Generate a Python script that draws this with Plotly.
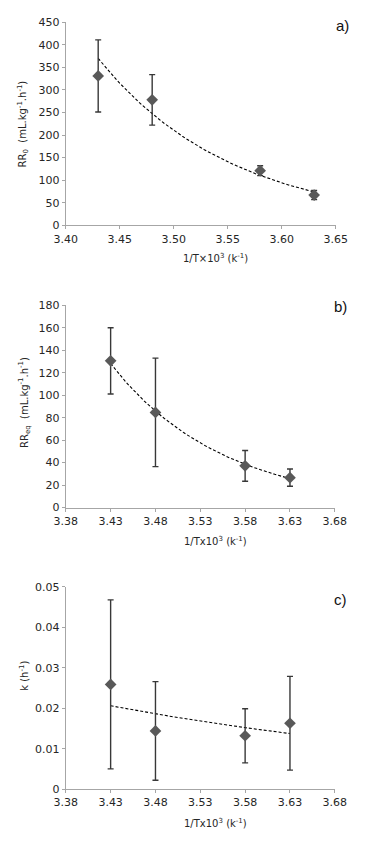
import numpy as np
import plotly.graph_objects as go

# ---- data ----
x_vals = [3.43, 3.48, 3.58, 3.63]

rr0 = [331, 278, 121, 67]
rr0_err = [80, 56, 11, 10]

rreq = [130.6, 84.7, 37.1, 26.6]
rreq_err = [29.5, 48.3, 13.7, 7.7]

k_vals = [0.0259, 0.0144, 0.0132, 0.0163]
k_err = [0.0209, 0.0122, 0.0067, 0.0116]

panel_labels = ["a)", "b)", "c)"]
y_titles = ["RR<sub>0</sub>  (mL.kg<sup>-1</sup>.h<sup>-1</sup>)",
            "RR<sub>eq</sub>  (mL.kg<sup>-1</sup>.h<sup>-1</sup>)",
            "k (h<sup>-1</sup>)"]
x_titles = ["1/T×10<sup>3</sup> (k<sup>-1</sup>)",
            "1/Tx10<sup>3</sup> (k<sup>-1</sup>)",
            "1/Tx10<sup>3</sup> (k<sup>-1</sup>)"]
x_ranges = [[3.40, 3.65], [3.38, 3.68], [3.38, 3.68]]
x_tickvals = [[3.40, 3.45, 3.50, 3.55, 3.60, 3.65],
              [3.38, 3.43, 3.48, 3.53, 3.58, 3.63, 3.68],
              [3.38, 3.43, 3.48, 3.53, 3.58, 3.63, 3.68]]
y_ranges = [[0, 450], [0, 180], [0, 0.05]]
y_dticks = [50, 20, 0.01]

series = [(rr0, rr0_err), (rreq, rreq_err), (k_vals, k_err)]

W, H = 373, 850
# plot areas in pixels (left, right, top, bottom)
areas = [(57.5, 346, 16.5, 222.7), (57.5, 345, 304, 509.3), (57.5, 345, 590, 795.3)]
label_pos = [(362, 20), (360, 305), (360, 603)]
xtitle_pos = [(218, 256), (218, 543), (218, 830)]
ytitle_pos = [(12, 120), (13, 403), (12, 680)]

fig = go.Figure()
tick_fam = "DejaVu Sans, sans-serif"
title_fam = "DejaVu Sans, sans-serif"
txt_col = "#262626"
axis_col = "#a6a6a6"

for i, ((yv, ye), (l, r, t, b)) in enumerate(zip(series, areas)):
    xa = "x" if i == 0 else f"x{i+1}"
    ya = "y" if i == 0 else f"y{i+1}"
    # exponential trendline (fit of ln y)
    xs = np.array(x_vals)
    coef = np.polyfit(xs, np.log(np.array(yv)), 1)
    xt = np.linspace(xs.min(), xs.max(), 60)
    yt = np.exp(np.polyval(coef, xt))
    fig.add_trace(go.Scatter(x=xt, y=yt, mode="lines", xaxis=xa, yaxis=ya,
                             line=dict(color="#000000", width=1.1, dash="3px,2px"),
                             showlegend=False, hoverinfo="skip"))
    fig.add_trace(go.Scatter(x=x_vals, y=yv, mode="markers", xaxis=xa, yaxis=ya,
                             marker=dict(symbol="diamond", size=9, color="#595959"),
                             error_y=dict(type="data", array=ye, visible=True,
                                          color="#383838", thickness=1.4, width=3),
                             showlegend=False))
    xd = [l / W, r / W]
    yd = [1 - b / H, 1 - t / H]
    common = dict(showgrid=False, zeroline=False, showline=True, linecolor=axis_col,
                  linewidth=1.3, ticks="outside", tickcolor=axis_col, ticklen=3,
                  tickfont=dict(family=tick_fam, size=11, color=txt_col))
    fig.layout["xaxis" if i == 0 else f"xaxis{i+1}"] = dict(
        domain=xd, anchor=ya, range=x_ranges[i], tickvals=x_tickvals[i],
        tickformat=".2f", **common)
    fig.layout["yaxis" if i == 0 else f"yaxis{i+1}"] = dict(
        domain=yd, anchor=xa, range=y_ranges[i], dtick=y_dticks[i], **common)
    tx, ty = xtitle_pos[i]
    fig.add_annotation(text=x_titles[i], xref="paper", yref="paper",
                       x=tx / W, y=1 - ty / H, xanchor="center", yanchor="middle",
                       showarrow=False, font=dict(family=title_fam, size=10, color=txt_col))
    yx, yy = ytitle_pos[i]
    fig.add_annotation(text=y_titles[i], xref="paper", yref="paper", textangle=-90,
                       x=yx / W, y=1 - yy / H, xanchor="center", yanchor="middle",
                       showarrow=False, font=dict(family=title_fam, size=10, color=txt_col))
    lx, ly = label_pos[i]
    fig.add_annotation(text=panel_labels[i], xref="paper", yref="paper",
                       x=lx / W, y=1 - ly / H, xanchor="right", yanchor="middle",
                       showarrow=False, font=dict(family="Liberation Sans, Arial, sans-serif",
                                                  size=15, color="#111111"))

fig.update_layout(width=W, height=H, margin=dict(l=0, r=0, t=0, b=0),
                  paper_bgcolor="white", plot_bgcolor="white")
fig.write_html("out.html")
